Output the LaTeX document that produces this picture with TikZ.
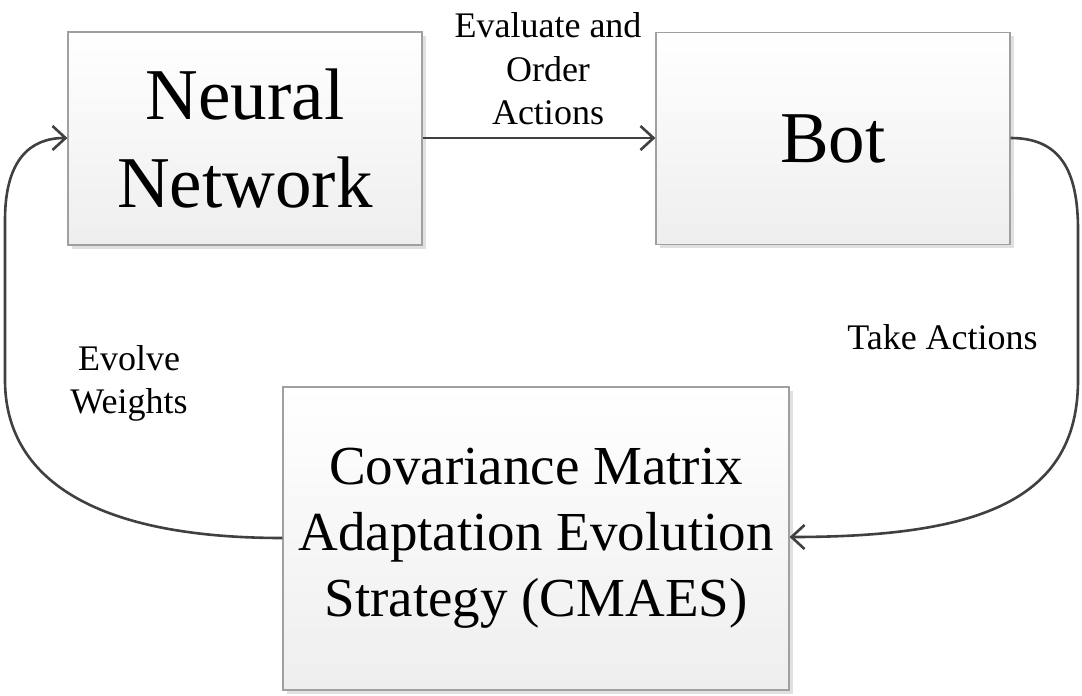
\documentclass[tikz,border=0pt]{standalone}
\usepackage{fontspec}
\setmainfont{Liberation Serif}
\usetikzlibrary{arrows.meta,shadows}
\definecolor{conncol}{HTML}{404040}
\definecolor{boxline}{HTML}{A0A0A0}
\definecolor{boxbot}{HTML}{EEEEEE}
\tikzset{
  blockbox/.style={draw=boxline, line width=1.2pt, top color=white, bottom color=boxbot,
    drop shadow={shadow xshift=3.5pt, shadow yshift=-3.5pt, fill=black!12, opacity=1},
    align=center, inner sep=0pt, text=black},
  bigtext/.style={font=\fontsize{73}{88}\selectfont},
  midtext/.style={font=\fontsize{55}{66}\selectfont},
  lbl/.style={font=\fontsize{36}{43.5}\selectfont, align=center, inner sep=0pt, text=black},
  conn/.style={draw=conncol, line width=2.6pt, -{Straight Barb[length=13pt,width=24pt,line width=2.6pt]}},
}
\begin{document}
\begin{tikzpicture}[x=1pt,y=-1pt]
\useasboundingbox (0,0) rectangle (1082,696);
\fill[white] (0,0) rectangle (1082,696);
\node[blockbox, bigtext, minimum width=354pt, minimum height=213pt] (nn) at (245,138.5) {Neural\\Network};
\node[blockbox, bigtext, minimum width=354pt, minimum height=212pt] (bot) at (833,138.5) {Bot};
\node[blockbox, midtext, minimum width=506pt, minimum height=303pt] (cm) at (536,538.5) {Covariance Matrix\\Adaptation Evolution\\Strategy (CMAES)};
\coordinate (ltop) at (5,220);
\coordinate (lbot) at (5,380);
\coordinate (rtop) at (1078,230);
\coordinate (rbot) at (1078,380);
\draw[conn] (nn.east |- 0,138) -- (bot.west |- 0,138);
\draw[conn] (bot.east |- 0,138) .. controls (1060,138) and (1078,170) .. (rtop) -- (rbot) .. controls (1078,500) and (980,537) .. (cm.east |- 0,537);
\draw[conn] (cm.west |- 0,538) .. controls (80,538) and (5,470) .. (lbot) -- (ltop) .. controls (5,160) and (30,138) .. (nn.west |- 0,138);
\node[lbl] (l1) at (548,69) {Evaluate and\\Order\\Actions};
\node[lbl] (l2) at (942.5,336.7) {Take Actions};
\node[lbl] (l3) at (129,383.5) {Evolve\\Weights};
\end{tikzpicture}
\end{document}
